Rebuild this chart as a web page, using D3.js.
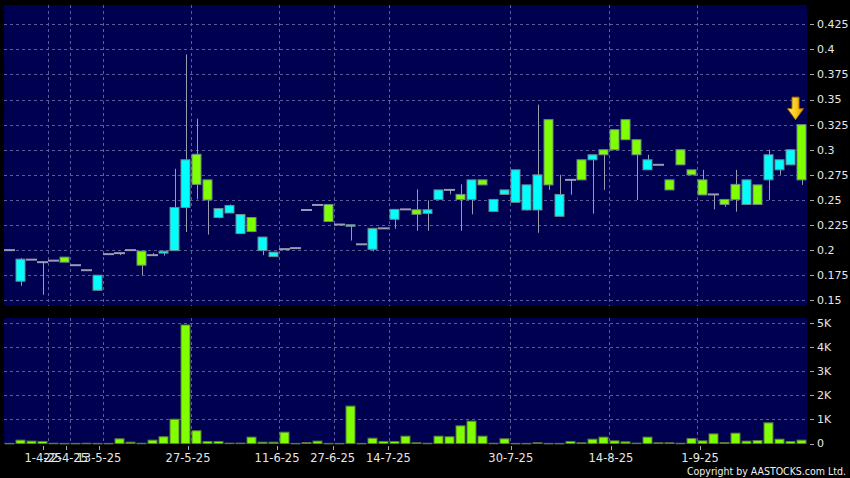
<!DOCTYPE html>
<html><head><meta charset="utf-8">
<script src="https://cdn.jsdelivr.net/npm/d3@7"></script>
<style>html,body{margin:0;padding:0;background:#000;}svg{display:block;}</style>
</head><body>
<svg id="chart" width="850" height="478"></svg>
<script>
// ---- data (one entry per trading day with trades) ----
const opens  = [0.2,0.191,0.1905,0.188,0.1895,0.188,0.185,0.18,0.175,0.196,0.197,0.2,0.185,0.195,0.199,0.2425,0.29,0.2655,0.25,0.2415,0.2445,0.2355,0.2185,0.213,0.198,0.201,0.202,0.24,0.245,0.2285,0.2255,0.2253,0.2058,0.2217,0.2217,0.2406,0.2406,0.2357,0.2402,0.26,0.26,0.2505,0.27,0.265,0.2505,0.26,0.28,0.265,0.275,0.265,0.2555,0.27,0.27,0.295,0.295,0.3,0.31,0.295,0.29,0.285,0.26,0.285,0.275,0.255,0.2555,0.2455,0.2505,0.27,0.2455,0.295,0.29,0.3,0.27];
const highs  = [0.2,0.192,0.1905,0.189,0.1895,0.193,0.185,0.18,0.175,0.196,0.197,0.2,0.199,0.197,0.199,0.281,0.395,0.331,0.27,0.2415,0.2455,0.2355,0.2325,0.213,0.198,0.201,0.202,0.24,0.245,0.2455,0.2255,0.2253,0.2058,0.2217,0.2217,0.2406,0.2406,0.2606,0.2496,0.26,0.26,0.2655,0.27,0.27,0.2505,0.26,0.28,0.265,0.345,0.33,0.275,0.27,0.29,0.295,0.3,0.32,0.33,0.31,0.295,0.285,0.27,0.3,0.28,0.28,0.2555,0.2505,0.28,0.27,0.265,0.3,0.29,0.3,0.325];
const lows   = [0.2,0.1645,0.1905,0.1555,0.1895,0.188,0.185,0.18,0.16,0.196,0.195,0.2,0.175,0.195,0.1945,0.1995,0.218,0.2505,0.2155,0.2315,0.237,0.2165,0.2178,0.195,0.1935,0.201,0.202,0.24,0.245,0.2285,0.2255,0.2095,0.2058,0.1988,0.2217,0.2213,0.2406,0.2193,0.2193,0.2505,0.2555,0.2193,0.2357,0.265,0.2386,0.2555,0.2476,0.2395,0.2173,0.26,0.2337,0.2552,0.27,0.2363,0.26,0.3,0.31,0.25,0.28,0.285,0.26,0.285,0.275,0.2555,0.2406,0.2432,0.2383,0.2455,0.2455,0.25,0.275,0.285,0.265];
const closes = [0.2,0.169,0.1905,0.188,0.1895,0.193,0.185,0.18,0.16,0.196,0.197,0.2,0.199,0.195,0.197,0.1995,0.2425,0.2955,0.27,0.2325,0.237,0.2165,0.2325,0.1995,0.1935,0.201,0.202,0.24,0.245,0.2455,0.2255,0.2237,0.2058,0.2008,0.2217,0.2307,0.2406,0.2402,0.2366,0.2505,0.26,0.2555,0.2505,0.27,0.2386,0.2555,0.2476,0.24,0.24,0.33,0.2337,0.27,0.29,0.29,0.3,0.32,0.33,0.31,0.28,0.285,0.27,0.3,0.28,0.27,0.2555,0.2505,0.2655,0.2455,0.265,0.27,0.28,0.285,0.325];
const volumes = [5,140,100,85,10,5,5,10,5,5,195,55,10,140,280,1010,4930,530,85,85,15,15,265,55,55,470,5,40,100,5,5,1555,5,220,85,85,305,30,10,305,280,735,930,305,10,195,5,5,30,5,5,85,30,180,265,110,70,15,265,30,30,10,210,110,400,40,430,100,125,860,180,85,140];
const xTickIndex  = [4,6,9,17,25,30,35,46,55,63];
const xTickLabels = ["1-4-25","22-4-25","13-5-25","27-5-25","11-6-25","27-6-25","14-7-25","30-7-25","14-8-25","1-9-25"];
const priceTicks  = [0.15,0.175,0.2,0.225,0.25,0.275,0.3,0.325,0.35,0.375,0.4,0.425];
const volumeTicks = [0,1000,2000,3000,4000,5000];
const volumeTickLabels = ["0","1K","2K","3K","4K","5K"];

// ---- layout ----
const W = 850, H = 478;
const plotL = 4, plotR = 807;
const pTop = 5, pBot = 306;
const vTop = 318, vBot = 444;
const bg = "#000050", gridC = "#5c5c98", upC = "#80ff00", dnC = "#00ffff", edgeC = "#6f8a8a", wickC = "#9a9ab0";
const font = "DejaVu Sans, Verdana, sans-serif";

const svg = d3.select("#chart");
svg.append("rect").attr("width", W).attr("height", H).attr("fill", "#000");

const idx = d3.range(opens.length);
const x = d3.scaleBand().domain(idx).range([plotL, plotR]).padding(0);
const xLab = d3.scaleLinear().domain([0, 73]).range([-1.2, 811.3]);
const y = d3.scaleLinear().domain([0.15, 0.425]).range([300.3, 24.3]);
const yv = d3.scaleLinear().domain([0, 5000]).range([443.5, 323.3]);

// panels
svg.append("rect").attr("x", plotL).attr("y", pTop).attr("width", plotR - plotL).attr("height", pBot - pTop).attr("fill", bg);
svg.append("rect").attr("x", plotL).attr("y", vTop).attr("width", plotR - plotL).attr("height", vBot - vTop).attr("fill", bg);

const grid = svg.append("g").attr("stroke", gridC).attr("stroke-width", 1).attr("stroke-dasharray", "3,3").attr("shape-rendering", "crispEdges");
priceTicks.forEach(t => grid.append("line").attr("x1", plotL).attr("x2", plotR).attr("y1", Math.round(y(t)) + 0.5).attr("y2", Math.round(y(t)) + 0.5));
volumeTicks.slice(1).forEach(t => grid.append("line").attr("x1", plotL).attr("x2", plotR).attr("y1", Math.round(yv(t)) + 0.5).attr("y2", Math.round(yv(t)) + 0.5));
xTickIndex.forEach(k => {
  const gx = Math.round(x(k)) + 0.5;
  grid.append("line").attr("x1", gx).attr("x2", gx).attr("y1", pTop).attr("y2", pBot);
  grid.append("line").attr("x1", gx).attr("x2", gx).attr("y1", vTop).attr("y2", vBot);
});

// candles
const bw = x.bandwidth();
const cg = svg.append("g");
idx.forEach(i => {
  const left = x(i), cx = Math.round(left + bw / 2) + 0.5;
  const o = opens[i], c = closes[i], h = highs[i], l = lows[i];
  if (h > l) cg.append("line").attr("x1", cx).attr("x2", cx).attr("y1", y(h)).attr("y2", y(l)).attr("stroke", wickC).attr("stroke-width", 1);
  if (o === c) {
    cg.append("line").attr("x1", left).attr("x2", left + bw).attr("y1", y(c)).attr("y2", y(c)).attr("stroke", wickC).attr("stroke-width", 2);
  } else {
    const top = y(Math.max(o, c)), bot = y(Math.min(o, c));
    cg.append("rect").attr("x", left + 1).attr("y", top).attr("width", bw - 2).attr("height", Math.max(1, bot - top))
      .attr("fill", c > o ? upC : dnC).attr("stroke", edgeC).attr("stroke-width", 1);
  }
});

// volume bars
const vg = svg.append("g");
idx.forEach(i => {
  const left = x(i);
  const top = yv(volumes[i]), bot = yv(0);
  vg.append("rect").attr("x", left + 1).attr("y", top).attr("width", bw - 2).attr("height", Math.max(0.5, bot - top))
    .attr("fill", upC).attr("stroke", "#5a7a3a").attr("stroke-width", 1);
});

// right axes
const ax = svg.append("g").attr("font-family", font).attr("font-size", "11px").attr("fill", "#e6e6e6");
priceTicks.forEach(t => {
  ax.append("line").attr("x1", 810).attr("x2", 814).attr("y1", Math.round(y(t)) + 0.5).attr("y2", Math.round(y(t)) + 0.5).attr("stroke", "#aaa");
  ax.append("text").attr("x", 817).attr("y", y(t)).attr("dy", "0.35em").text(String(+t.toFixed(3)));
});
volumeTicks.forEach((t, j) => {
  ax.append("line").attr("x1", 810).attr("x2", 814).attr("y1", Math.round(yv(t)) + 0.5).attr("y2", Math.round(yv(t)) + 0.5).attr("stroke", "#aaa");
  ax.append("text").attr("x", 817).attr("y", yv(t)).attr("dy", "0.35em").text(volumeTickLabels[j]);
});

// bottom axis
xTickIndex.forEach((k, j) => {
  const tx = Math.round(xLab(k)) + 0.5;
  ax.append("line").attr("x1", tx).attr("x2", tx).attr("y1", 446).attr("y2", 450).attr("stroke", "#aaa");
  ax.append("text").attr("x", xLab(k)).attr("y", 462).attr("text-anchor", "middle").attr("font-size", "11.5px").text(xTickLabels[j]);
});

// arrow marker above last candle
const defs = svg.append("defs");
const gr = defs.append("linearGradient").attr("id", "gold").attr("x1", "0").attr("x2", "1").attr("y1", "0").attr("y2", "0");
gr.append("stop").attr("offset", "0").attr("stop-color", "#ffe87a");
gr.append("stop").attr("offset", "0.5").attr("stop-color", "#ffcc1a");
gr.append("stop").attr("offset", "1").attr("stop-color", "#d99a00");
const last = opens.length - 1;
const ax0 = x(last) + bw / 2 - 6, tipY = y(highs[last]) - 5;
const arrow = d3.path();
arrow.moveTo(ax0 - 3.5, tipY - 22.5);
arrow.lineTo(ax0 + 3.5, tipY - 22.5);
arrow.lineTo(ax0 + 3.5, tipY - 11);
arrow.lineTo(ax0 + 8, tipY - 11);
arrow.lineTo(ax0, tipY);
arrow.lineTo(ax0 - 8, tipY - 11);
arrow.lineTo(ax0 - 3.5, tipY - 11);
arrow.closePath();
svg.append("path").attr("d", arrow.toString()).attr("fill", "url(#gold)").attr("stroke", "#a87400").attr("stroke-width", 1);

// copyright
svg.append("text").attr("x", 846).attr("y", 475).attr("text-anchor", "end")
  .attr("font-family", font).attr("font-size", "10px").attr("fill", "#f0f0f0")
  .attr("textLength", 159).attr("lengthAdjust", "spacingAndGlyphs")
  .text("Copyright by AASTOCKS.com Ltd.");
</script>
</body></html>
